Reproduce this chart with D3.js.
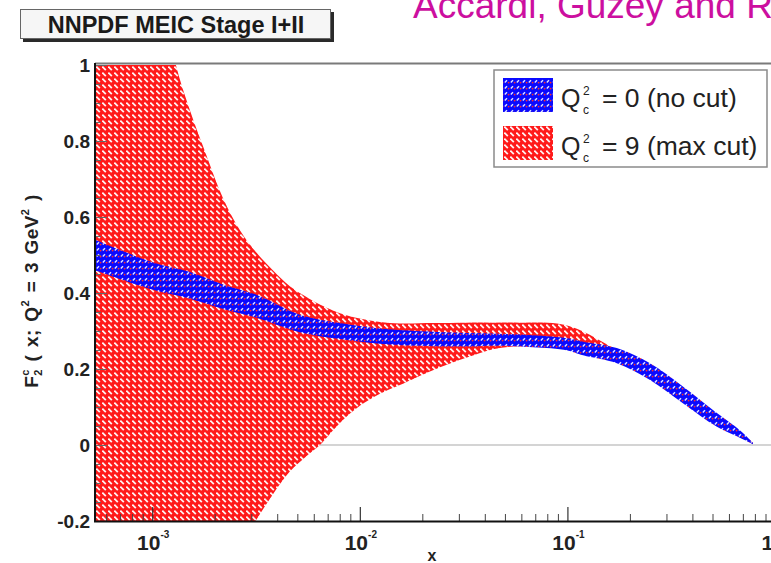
<!DOCTYPE html>
<html><head><meta charset="utf-8">
<script src="https://cdn.jsdelivr.net/npm/d3@7"></script>
<style>body{margin:0;background:#fff;} svg{display:block;font-family:"Liberation Sans",Arial,Helvetica,sans-serif;}</style>
</head><body>
<svg id="c" width="771" height="563"></svg>
<script>
// ---- data ----
const xRed = [5.3e-4, 7e-4, 1.0e-3, 1.15e-3, 1.30e-3, 1.52e-3, 1.83e-3, 2.19e-3, 2.64e-3, 3.19e-3, 3.81e-3, 4.6e-3, 5.56e-3, 6.42e-3, 8.02e-3, 1.0e-2, 1.25e-2, 1.56e-2, 2.25e-2, 3.28e-2, 4.38e-2, 5.9e-2, 8.9e-2, 0.106, 0.128, 0.173, 0.25, 0.36, 0.525, 0.677, 0.783];
const redUpper = [3.0, 2.1, 1.35, 1.15, 1.0, 0.88, 0.76, 0.65, 0.566, 0.505, 0.46, 0.418, 0.389, 0.37, 0.347, 0.333, 0.324, 0.32, 0.321, 0.322, 0.322, 0.322, 0.32, 0.31, 0.29, 0.25, 0.208, 0.148, 0.08, 0.035, 0.006];
const redLower = [-1.3, -1.05, -0.78, -0.68, -0.6, -0.52, -0.43, -0.35, -0.27, -0.195, -0.13, -0.07, -0.028, 0.0, 0.058, 0.103, 0.135, 0.158, 0.197, 0.23, 0.252, 0.26, 0.255, 0.25, 0.24, 0.222, 0.178, 0.117, 0.052, 0.022, 0.003];

const xBlue = [5.3e-4, 1.0e-3, 1.52e-3, 2.2e-3, 3.19e-3, 5.14e-3, 8.02e-3, 1.29e-2, 2.25e-2, 3.28e-2, 4.73e-2, 6.83e-2, 0.1, 0.119, 0.173, 0.25, 0.36, 0.525, 0.677, 0.783];
const blueCentral = [0.50, 0.445, 0.42, 0.39, 0.365, 0.32, 0.30, 0.286, 0.279, 0.277, 0.277, 0.273, 0.265, 0.254, 0.235, 0.193, 0.132, 0.066, 0.029, 0.004];
const blueError = [0.04, 0.036, 0.035, 0.032, 0.03, 0.023, 0.021, 0.02, 0.019, 0.018, 0.016, 0.016, 0.016, 0.018, 0.02, 0.022, 0.022, 0.018, 0.01, 0.002];

const yMajorTicks = [-0.2, 0, 0.2, 0.4, 0.6, 0.8, 1];
const yTickLabels = ["-0.2", "0", "0.2", "0.4", "0.6", "0.8", "1"];
const xDecades = [-3, -2, -1, 0];
const xDecadeLabels = ["-3", "-2", "-1", "0"];
const legendValues = ["0", "9"];
const legendNotes = ["(no cut)", "(max cut)"];
const legendPatterns = ["bluePat", "redPat"];
const titleText = "NNPDF MEIC Stage I+II";
const authorText = "Accardi, Guzey and R";

// ---- drawing ----
const svg = d3.select("#c");
const x = d3.scaleLog().domain([5.3e-4, 1]).range([95, 775]);
const y = d3.scaleLinear().domain([-0.2, 1]).range([521, 65]);

const defs = svg.append("defs");
defs.append("clipPath").attr("id", "plotClip").append("rect")
  .attr("x", 95).attr("y", 65).attr("width", 680).attr("height", 456);

const rp = defs.append("pattern").attr("id", "redPat").attr("patternUnits", "userSpaceOnUse")
  .attr("width", 6).attr("height", 6);
rp.append("rect").attr("width", 6).attr("height", 6).attr("fill", "#ff1a1a");
rp.append("path").attr("d", "M0.3,0.6 L3.8,4.1").attr("stroke", "#fff2f2").attr("stroke-width", 1.8);

const bp = defs.append("pattern").attr("id", "bluePat").attr("patternUnits", "userSpaceOnUse")
  .attr("width", 6).attr("height", 6);
bp.append("rect").attr("width", 6).attr("height", 6).attr("fill", "#0a0aff");
bp.append("path").attr("d", "M0.8,4.4 L3,2.2").attr("stroke", "#e4e4ff").attr("stroke-width", 1.4);
bp.append("circle").attr("cx", 4.6).attr("cy", 4.6).attr("r", 0.9).attr("fill", "#ff2a2a");

// zero line
svg.append("line").attr("x1", x(5.3e-4)).attr("x2", x(1)).attr("y1", y(0)).attr("y2", y(0))
  .attr("stroke", "#d4d4d4").attr("stroke-width", 2);

const plot = svg.append("g").attr("clip-path", "url(#plotClip)");
const redData = xRed.map((v, i) => ({x: v, lo: redLower[i], hi: redUpper[i]}));
const blueData = xBlue.map((v, i) => ({x: v, lo: blueCentral[i] - blueError[i], hi: blueCentral[i] + blueError[i]}));
const area = d3.area().x(d => x(d.x)).y0(d => y(d.lo)).y1(d => y(d.hi)).curve(d3.curveCatmullRom.alpha(0.5));
plot.append("path").datum(redData).attr("d", area).attr("fill", "url(#redPat)");
plot.append("path").datum(blueData).attr("d", area).attr("fill", "url(#bluePat)");

// left axis (ticks inside)
const yMinor = d3.range(-0.2, 1.0001, 0.05).filter(v => !yMajorTicks.some(m => Math.abs(m - v) < 1e-6));
const gl = svg.append("g").attr("transform", "translate(95,0)");
gl.call(d3.axisRight(y).tickValues(yMajorTicks).tickSize(12).tickFormat(""));
gl.call(g => g.select(".domain").remove());
const gl2 = svg.append("g").attr("transform", "translate(95,0)");
gl2.call(d3.axisRight(y).tickValues(yMinor).tickSize(6).tickFormat(""));
gl2.call(g => g.select(".domain").remove());
svg.selectAll("g.tick line").attr("stroke", "#666").attr("stroke-width", 1);

// bottom axis (ticks pointing up)
const xMajor = xDecades.map(d => Math.pow(10, d));
const xMinor = [];
[-4, -3, -2, -1].forEach(d => { for (let k = 2; k <= 9; k++) { const v = k * Math.pow(10, d); if (v >= 5.3e-4 && v <= 1) xMinor.push(v); } });
const gb = svg.append("g").attr("transform", "translate(0,521)");
gb.call(d3.axisTop(x).tickValues(xMajor).tickSize(14).tickFormat(""));
gb.call(g => g.select(".domain").remove());
const gb2 = svg.append("g").attr("transform", "translate(0,521)");
gb2.call(d3.axisTop(x).tickValues(xMinor).tickSize(7).tickFormat(""));
gb2.call(g => g.select(".domain").remove());
gb.selectAll(".tick line").attr("stroke", "#333").attr("stroke-width", 1.2);
gb2.selectAll(".tick line").attr("stroke", "#444").attr("stroke-width", 1);

// frame lines
svg.append("line").attr("x1", 95).attr("x2", 775).attr("y1", 63.5).attr("y2", 63.5).attr("stroke", "#7a7a7a").attr("stroke-width", 2);
svg.append("line").attr("x1", 95).attr("x2", 95).attr("y1", 63).attr("y2", 522).attr("stroke", "#111").attr("stroke-width", 2);
svg.append("line").attr("x1", 94).attr("x2", 775).attr("y1", 521.5).attr("y2", 521.5).attr("stroke", "#111").attr("stroke-width", 2);

// y tick labels
svg.append("g").selectAll("text").data(yMajorTicks).join("text")
  .attr("x", 90).attr("y", d => y(d) + 7).attr("text-anchor", "end")
  .attr("font-size", 19).attr("font-weight", "bold").attr("fill", "#222")
  .text((d, i) => yTickLabels[i]);

// x tick labels
const xl = svg.append("g").selectAll("text").data(xDecades).join("text")
  .attr("x", d => x(Math.pow(10, d)) + 1).attr("y", 550).attr("text-anchor", "middle")
  .attr("font-weight", "bold").attr("fill", "#222");
xl.append("tspan").attr("font-size", 21).text("10");
xl.append("tspan").attr("font-size", 10).attr("dy", -12).text((d, i) => xDecadeLabels[i]);

// x axis title
svg.append("text").attr("x", 432).attr("y", 561).attr("text-anchor", "middle")
  .attr("font-size", 16).attr("font-weight", "bold").attr("fill", "#222").text("x");

// y axis title
const yt = svg.append("text").attr("transform", "translate(38,291) rotate(-90)")
  .attr("text-anchor", "middle").attr("font-size", 19).attr("font-weight", "bold")
  .attr("letter-spacing", 0.4).attr("word-spacing", 2).attr("fill", "#222");
yt.append("tspan").text("F");
yt.append("tspan").attr("font-size", 11).attr("dy", 4).text("2");
yt.append("tspan").attr("font-size", 11).attr("dx", -6.5).attr("dy", -13).text("c");
yt.append("tspan").attr("dy", 9).text(" ( x; Q");
yt.append("tspan").attr("font-size", 11).attr("dy", -9).text("2");
yt.append("tspan").attr("dy", 9).text(" = 3 GeV");
yt.append("tspan").attr("font-size", 11).attr("dy", -9).text("2");
yt.append("tspan").attr("dy", 9).text(" )");

// title box
svg.append("rect").attr("x", 23).attr("y", 12).attr("width", 311).attr("height", 30).attr("fill", "#2a2a2a");
svg.append("rect").attr("x", 20.5).attr("y", 9.5).attr("width", 310).attr("height", 29).attr("fill", "#f6f6f6").attr("stroke", "#666").attr("stroke-width", 1);
svg.append("text").attr("x", 176).attr("y", 33).attr("text-anchor", "middle")
  .attr("font-size", 23.5).attr("font-weight", "bold").attr("fill", "#1a1a1a").text(titleText);

// author text
svg.append("text").attr("x", 413).attr("y", 18).attr("font-size", 37).attr("fill", "#cc0f9f").text(authorText);

// legend
svg.append("rect").attr("x", 494).attr("y", 70).attr("width", 273).attr("height", 97)
  .attr("fill", "#fff").attr("stroke", "#8a8a8a").attr("stroke-width", 1.5);
const legY = [107, 155];
legendValues.forEach((v, i) => {
  svg.append("rect").attr("x", 503).attr("y", legY[i] - 29).attr("width", 50).attr("height", 34)
    .attr("fill", "url(#" + legendPatterns[i] + ")");
  svg.append("text").attr("x", 561).attr("y", legY[i]).attr("font-size", 25).attr("fill", "#222").text("Q");
  svg.append("text").attr("x", 583).attr("y", legY[i] - 12).attr("font-size", 12).attr("fill", "#222").text("2");
  svg.append("text").attr("x", 583).attr("y", legY[i] + 7).attr("font-size", 12).attr("fill", "#222").text("c");
  svg.append("text").attr("x", 602).attr("y", legY[i]).attr("font-size", 26.5).attr("fill", "#222")
    .text("= " + v + " " + legendNotes[i]);
});
</script>
</body></html>
